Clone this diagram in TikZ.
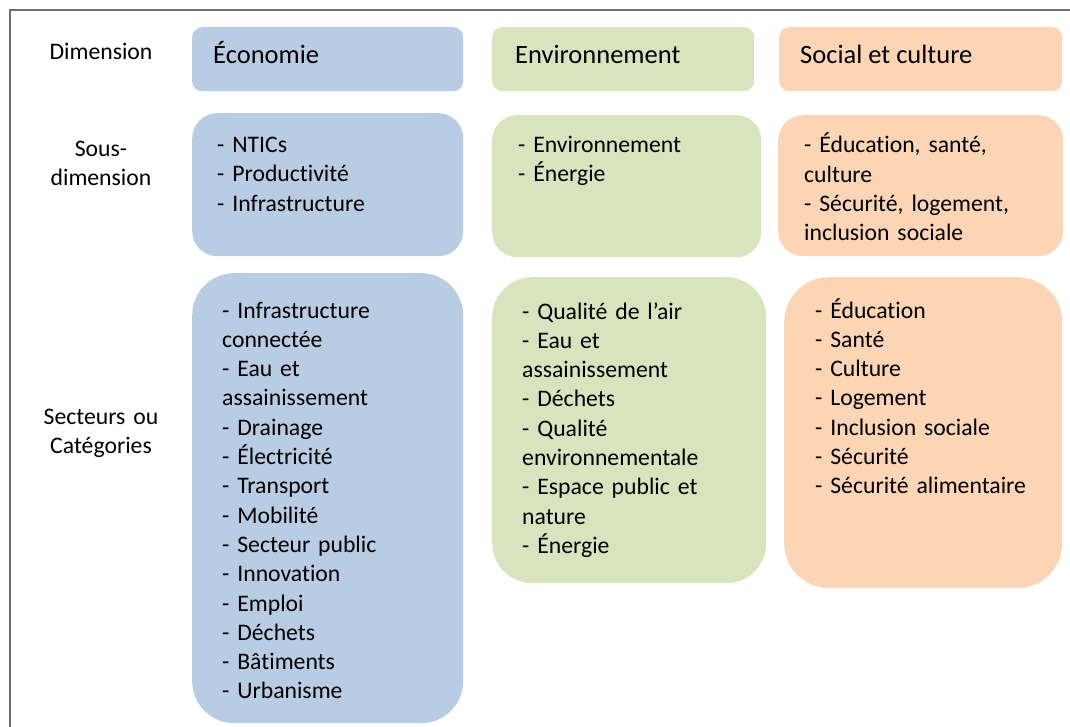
\documentclass[tikz,border=0pt]{standalone}
\usepackage{fontspec}
\setmainfont{Carlito}[Ligatures=CommonOff]
\definecolor{ecoblue}{HTML}{B8CCE4}
\definecolor{envgreen}{HTML}{D7E4BD}
\definecolor{socorange}{HTML}{FBD5B5}
\definecolor{framegray}{HTML}{6E6E6E}
\begin{document}
\begin{tikzpicture}[x=1pt,y=-1pt,
  panel/.style={rectangle, draw=none, inner sep=0pt, anchor=north west},
  hdrtext/.style={anchor=base west, inner sep=0pt, font=\fontsize{26.5}{32}\selectfont},
  listtext/.style={anchor=base west, inner sep=0pt, text width=250pt, align=left,
                   font=\fontsize{23.7}{29.3}\selectfont},
  rowlabel/.style={anchor=base, inner sep=0pt, text width=150pt, align=center,
                   font=\fontsize{23.7}{29.3}\selectfont}]
\useasboundingbox (0,0) rectangle (1070,727);

% outer frame (top and left edges)
\draw[framegray, line width=1.5pt] (10,727) -- (10,10) -- (1070,10);

% row labels
\node[rowlabel] (lblDim) at (101,60) {Dimension};
\node[rowlabel] (lblSub) at (101,156.5) {Sous-\\dimension};
\node[rowlabel] (lblSec) at (101,424) {Secteurs ou\\Catégories};

% dimension row
\node[panel, fill=ecoblue, rounded corners=10pt, minimum width=271pt, minimum height=64pt] (dEco) at (192,27) {};
\node[panel, fill=envgreen, rounded corners=10pt, minimum width=262pt, minimum height=64pt] (dEnv) at (492,27) {};
\node[panel, fill=socorange, rounded corners=10pt, minimum width=283pt, minimum height=64pt] (dSoc) at (779,27) {};
\node[hdrtext] (tEco) at (213,63.5) {Économie};
\node[hdrtext] (tEnv) at (515,63.5) {Environnement};
\node[hdrtext] (tSoc) at (800,63.5) {Social et culture};

% sub-dimension row
\node[panel, fill=ecoblue, rounded corners=25pt, minimum width=271pt, minimum height=143pt] (sEco) at (192,113) {};
\node[panel, fill=envgreen, rounded corners=25pt, minimum width=269pt, minimum height=142pt] (sEnv) at (492,115) {};
\node[panel, fill=socorange, rounded corners=25pt, minimum width=285pt, minimum height=141pt] (sSoc) at (778,115) {};
\node[listtext] (lsEco) at (217,152.5) {- NTICs\\- Productivité\\- Infrastructure};
\node[listtext] (lsEnv) at (518,152.5) {- Environnement\\- Énergie};
\node[listtext] (lsSoc) at (804,153) {- Éducation, santé,\\culture\\- Sécurité, logement,\\inclusion sociale};

% sectors row
\node[panel, fill=ecoblue, rounded corners=42pt, minimum width=271pt, minimum height=450pt] (cEco) at (192,273) {};
\node[panel, fill=envgreen, rounded corners=40pt, minimum width=274pt, minimum height=306pt] (cEnv) at (492,277) {};
\node[panel, fill=socorange, rounded corners=45pt, minimum width=278pt, minimum height=311pt] (cSoc) at (784,277) {};
\node[listtext] (lcEco) at (222,318) {- Infrastructure\\connectée\\- Eau et\\assainissement\\- Drainage\\- Électricité\\- Transport\\- Mobilité\\- Secteur public\\- Innovation\\- Emploi\\- Déchets\\- Bâtiments\\- Urbanisme};
\node[listtext] (lcEnv) at (522,319) {- Qualité de l’air\\- Eau et\\assainissement\\- Déchets\\- Qualité\\environnementale\\- Espace public et\\nature\\- Énergie};
\node[listtext] (lcSoc) at (815,318) {- Éducation\\- Santé\\- Culture\\- Logement\\- Inclusion sociale\\- Sécurité\\- Sécurité alimentaire};
\end{tikzpicture}
\end{document}
